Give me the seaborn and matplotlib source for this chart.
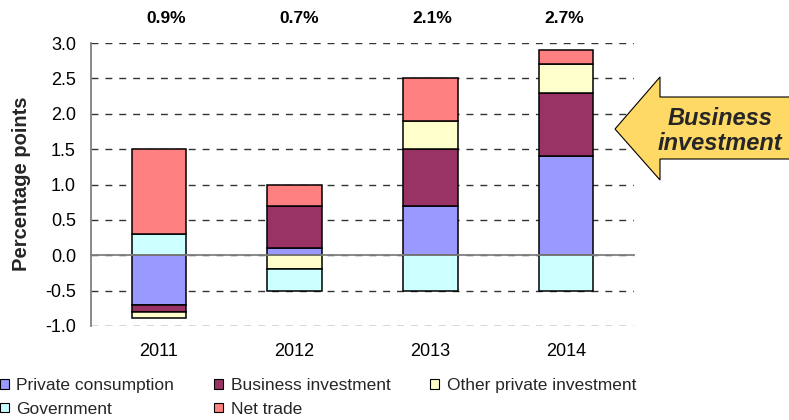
import numpy as np
import pandas as pd
import matplotlib
matplotlib.use("Agg")
import matplotlib.pyplot as plt
import seaborn as sns
from matplotlib.patches import Polygon, Patch

# ---- data ----
years = ["2011", "2012", "2013", "2014"]
growth_labels = ["0.9%", "0.7%", "2.1%", "2.7%"]
private_consumption = [-0.70, 0.10, 0.70, 1.40]
business_investment = [-0.10, 0.60, 0.80, 0.90]
other_private_investment = [-0.08, -0.20, 0.40, 0.40]
government = [0.30, -0.30, -0.50, -0.50]
net_trade = [1.20, 0.30, 0.60, 0.20]

series_names = ["Private consumption", "Business investment",
                "Other private investment", "Government", "Net trade"]
series_values = [private_consumption, business_investment,
                 other_private_investment, government, net_trade]
series_colors = ["#9999FF", "#993366", "#FFFFCC", "#CCFFFF", "#FF8080"]

sns.set_theme(style="white")
plt.rcParams["font.family"] = ["Liberation Sans", "DejaVu Sans"]

W, H = 789, 420
fig = plt.figure(figsize=(W / 100, H / 100), dpi=100)
ax = fig.add_axes([91 / W, 1 - 326 / H, (634 - 91) / W, (326 - 43) / H])

pos_base = np.zeros(len(years))
neg_base = np.zeros(len(years))
for name, vals, col in zip(series_names, series_values, series_colors):
    v = np.array(vals, dtype=float)
    bottom = np.where(v >= 0, pos_base, neg_base)
    df = pd.DataFrame({"year": years, "value": v})
    sns.barplot(data=df, x="year", y="value", order=years, bottom=bottom,
                color=col, saturation=1, width=0.4, edgecolor="black",
                linewidth=1.1, errorbar=None, ax=ax, zorder=2)
    pos_base += np.where(v > 0, v, 0)
    neg_base += np.where(v < 0, v, 0)

ax.set_xlim(-0.5, 3.5)
ax.set_ylim(-1.0, 3.0)
yt = np.arange(-1.0, 3.01, 0.5)
ax.set_yticks(yt)
ax.set_yticklabels([f"{t:.1f}" for t in yt])
ax.set_xlabel("")
ax.set_ylabel("")

ax.yaxis.grid(True, linestyle=(0, (5, 5)), color="#333333", linewidth=1)
ax.xaxis.grid(False)
ax.set_axisbelow(True)

for s in ["top", "right"]:
    ax.spines[s].set_visible(False)
ax.spines["left"].set_color("#808080")
ax.spines["left"].set_linewidth(1.3)
ax.spines["bottom"].set_position(("data", 0))
ax.spines["bottom"].set_color("#808080")
ax.spines["bottom"].set_linewidth(1.3)
ax.spines["bottom"].set_zorder(3)

ax.set_xticks(range(len(years)))
ax.set_xticklabels(years)
ax.set_xticks(np.arange(-0.5, 3.6, 1.0), minor=True)
ax.tick_params(axis="x", which="major", length=0, pad=63, labelsize=13,
               labelcolor="black")
ax.tick_params(axis="x", which="minor", length=4, width=1, color="#808080",
               direction="out")
ax.tick_params(axis="y", length=4.3, width=1, color="#333333", direction="out",
               labelsize=13, pad=6.5, labelcolor="black")

# growth labels above the plot (slightly evenly spread, as in the original)
label_x_axes = [(166 - 91) / 543, (299 - 91) / 543, (432 - 91) / 543, (564 - 91) / 543]
for xa, lab in zip(label_x_axes, growth_labels):
    ax.text(xa, 1.088, lab, transform=ax.transAxes, ha="center", va="center",
            fontsize=12.5, fontweight="bold", color="black")

fig.text(22 / W, 1 - 184 / H, "Percentage points", rotation=90,
         ha="center", va="center", fontsize=14.5, fontweight="bold")

handles = [Patch(facecolor=c, edgecolor="black", linewidth=0.8) for c in series_colors]
order = [0, 3, 1, 4, 2]
fig.legend([handles[i] for i in order], [series_names[i] for i in order],
           ncol=3, loc="upper left", bbox_to_anchor=(0.0, 1 - 378 / H),
           frameon=False, fontsize=12.5, handlelength=0.5, handleheight=0.5,
           handletextpad=0.45, columnspacing=2.3, labelspacing=0.5,
           borderpad=0, borderaxespad=0)

# callout arrow
pts_px = [(615, 129), (660, 77), (660, 97), (795, 97), (795, 159),
          (660, 159), (660, 180)]
pts = [(x / W, 1 - y / H) for x, y in pts_px]
arrow = Polygon(pts, closed=True, facecolor="#FFD966", edgecolor="black",
                linewidth=0.8, transform=fig.transFigure, clip_on=False)
fig.add_artist(arrow)
fig.text(720 / W, 1 - 131 / H, "Business\ninvestment", ha="center",
         va="center", fontsize=17, fontweight="bold", fontstyle="italic",
         linespacing=1.15)

fig.savefig("out.png", dpi=100)
